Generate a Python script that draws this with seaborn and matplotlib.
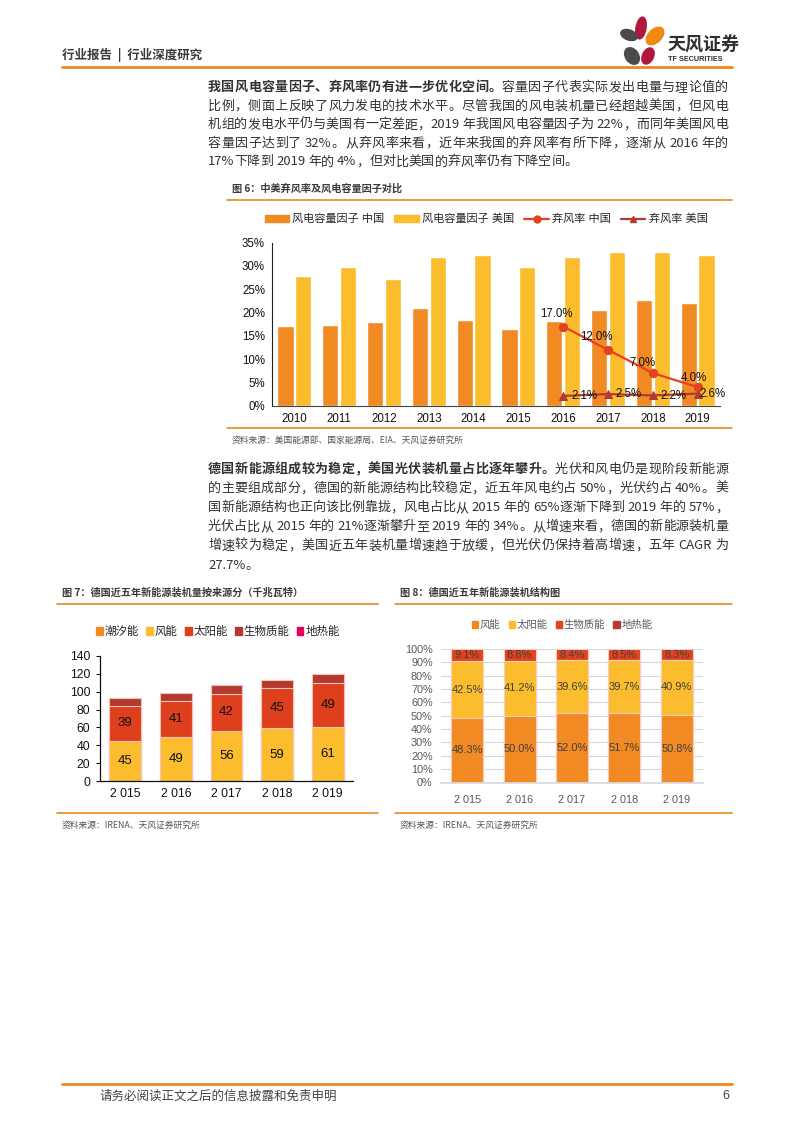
import matplotlib
matplotlib.use("Agg")
import matplotlib.pyplot as plt
import seaborn as sns
import pandas as pd
from matplotlib.patches import Ellipse, Patch
from matplotlib.lines import Line2D
from matplotlib.font_manager import FontProperties

# ----- data -----
years6 = [2010, 2011, 2012, 2013, 2014, 2015, 2016, 2017, 2018, 2019]
cf_china = [17.1, 17.3, 17.9, 20.9, 18.5, 16.4, 18.1, 20.5, 22.7, 22.0]
cf_us = [27.8, 29.7, 27.2, 31.9, 32.4, 29.8, 31.9, 32.9, 33.1, 32.4]
curtail_years = [2016, 2017, 2018, 2019]
curtail_china = [17.0, 12.0, 7.0, 4.0]
curtail_us = [2.1, 2.5, 2.2, 2.6]

years_de = ["2 015", "2 016", "2 017", "2 018", "2 019"]
de_tidal = [0, 0, 0, 0, 0]
de_wind = [45, 49, 56, 59, 61]
de_solar = [39, 41, 42, 45, 49]
de_bio = [8.5, 9, 9, 9.5, 10]
de_geo = [0, 0, 0, 0, 0]

share_wind = [48.3, 50.0, 52.0, 51.7, 50.8]
share_solar = [42.5, 41.2, 39.6, 39.7, 40.9]
share_bio = [9.1, 8.8, 8.4, 8.5, 8.3]
share_geo = [0, 0, 0, 0, 0]

para1 = [
    [("我国风电容量因子、弃风率仍有进一步优化空间。", "bold"), ("容量因子代表实际发出电量与理论值的", "normal")],
    [("比例，侧面上反映了风力发电的技术水平。尽管我国的风电装机量已经超越美国，但风电", "normal")],
    [("机组的发电水平仍与美国有一定差距，2019 年我国风电容量因子为 22%，而同年美国风电", "normal")],
    [("容量因子达到了 32%。从弃风率来看，近年来我国的弃风率有所下降，逐渐从 2016 年的", "normal")],
    [("17%下降到 2019 年的 4%，但对比美国的弃风率仍有下降空间。", "normal")],
]
para2 = [
    [("德国新能源组成较为稳定，美国光伏装机量占比逐年攀升。", "bold"), ("光伏和风电仍是现阶段新能源", "normal")],
    [("的主要组成部分，德国的新能源结构比较稳定，近五年风电约占 50%，光伏约占 40%。美", "normal")],
    [("国新能源结构也正向该比例靠拢，风电占比从 2015 年的 65%逐渐下降到 2019 年的 57%，", "normal")],
    [("光伏占比从 2015 年的 21%逐渐攀升至 2019 年的 34%。从增速来看，德国的新能源装机量", "normal")],
    [("增速较为稳定，美国近五年装机量增速趋于放缓，但光伏仍保持着高增速，五年 CAGR 为", "normal")],
    [("27.7%。", "normal")],
]

ORANGE = "#F28A24"
YELLOW = "#FBBD2E"
RED = "#E2431E"
DARKRED = "#B23A2E"
CRIMSON = "#E6005A"
RULE = "#EA8A1F"
TXT = "#333333"
CJK = ["Noto Sans CJK SC", "DejaVu Sans"]

sns.set_theme(style="white")
plt.rcParams["font.family"] = ["Liberation Sans", "Noto Sans CJK SC", "DejaVu Sans"]

fig = plt.figure(figsize=(7.93, 11.22), dpi=100)
bg = fig.add_axes([0, 0, 1, 1], zorder=0)
bg.set_xlim(0, 793)
bg.set_ylim(1122, 0)
bg.axis("off")
renderer = fig.canvas.get_renderer()


def fax(l, t, r, b):
    a = fig.add_axes([l / 793, 1 - b / 1122, (r - l) / 793, (b - t) / 1122], zorder=2)
    a.set_facecolor("none")
    return a


_cache = {}


def adv(s, weight, size):
    key = (s, weight, size)
    if key not in _cache:
        fp = FontProperties(family=CJK, size=size, weight=weight)
        w1 = renderer.get_text_width_height_descent("|" + s + "|", fp, ismath=False)[0]
        w0 = renderer.get_text_width_height_descent("||", fp, ismath=False)[0]
        _cache[key] = w1 - w0
    return _cache[key]


def tokens(parts):
    out = []
    for s, w in parts:
        buf = ""
        for c in s:
            if ord(c) < 128 and c != " ":
                buf += c
                continue
            if buf:
                out.append((buf, w))
                buf = ""
            out.append((c, w))
        if buf:
            out.append((buf, w))
    return out


def draw_line(x0, x1, y, parts, size=9.4, justify=True):
    toks = tokens(parts)
    widths = [adv(t, w, size) for t, w in toks]
    gap = 0
    if justify and len(toks) > 1:
        gap = (x1 - x0 - sum(widths)) / (len(toks) - 1)
    x = x0
    for (t, w), wd in zip(toks, widths):
        if t != " ":
            bg.text(x, y, t, fontsize=size, fontweight=w, family=CJK, color=TXT,
                    ha="left", va="baseline")
        x += wd + gap


def draw_para(lines, y0, step):
    for i, ln in enumerate(lines):
        draw_line(208, 728, y0 + i * step, ln, justify=(i < len(lines) - 1))


# ----- page frame -----
bg.text(62, 55, "行业报告  |  行业深度研究", family=CJK, fontsize=9, fontweight="bold",
        color="#3a3a3a", va="center")
bg.plot([62, 732], [67, 67], color=RULE, lw=2)
bg.plot([62, 732], [1084, 1084], color=RULE, lw=2)
bg.text(100, 1096, "请务必阅读正文之后的信息披露和免责申明", family=CJK, fontsize=9,
        color="#444444", va="center")
bg.text(722, 1096, "6", fontsize=9, color="#444444", va="center")

# logo petals
for (cx, cy, w, h, ang, col) in [
        (641, 28, 10, 22, 10, "#B0173F"), (655, 36, 13, 21, 45, "#EF8A12"),
        (629, 35, 17, 10, 20, "#4a4a4a"), (632, 56, 13, 18, -35, "#4a4a4a"),
        (648, 56, 11, 17, 25, "#B0173F")]:
    bg.add_patch(Ellipse((cx, cy), w, h, angle=ang, color=col, zorder=3))
bg.text(667, 45, "天风证券", family=CJK, fontsize=13, fontweight="bold", color="#2f2f2f",
        va="center")
bg.text(668, 59, "TF SECURITIES", fontsize=5.2, fontweight="bold", color="#2f2f2f",
        va="center")

draw_para(para1, 91, 18.6)
draw_para(para2, 473, 19.1)

# chart captions and rules
bg.text(232, 189, "图 6：中美弃风率及风电容量因子对比", family=CJK, fontsize=7.3,
        fontweight="bold", color="#3a3a3a", va="center")
bg.plot([227, 732], [200, 200], color=RULE, lw=1.2)
bg.plot([227, 732], [428, 428], color=RULE, lw=1.2)
bg.text(232, 440, "资料来源：美国能源部、国家能源局、EIA、天风证券研究所", family=CJK,
        fontsize=6.3, color="#555555", va="center")

bg.text(62, 593, "图 7：德国近五年新能源装机量按来源分（千兆瓦特）", family=CJK, fontsize=7.3,
        fontweight="bold", color="#3a3a3a", va="center")
bg.plot([57, 378], [604, 604], color=RULE, lw=1.2)
bg.plot([57, 378], [813, 813], color=RULE, lw=1.2)
bg.text(62, 825, "资料来源：IRENA、天风证券研究所", family=CJK, fontsize=6.3,
        color="#555555", va="center")

bg.text(400, 593, "图 8：德国近五年新能源装机结构图", family=CJK, fontsize=7.3,
        fontweight="bold", color="#3a3a3a", va="center")
bg.plot([395, 732], [604, 604], color=RULE, lw=1.2)
bg.plot([395, 732], [813, 813], color=RULE, lw=1.2)
bg.text(400, 825, "资料来源：IRENA、天风证券研究所", family=CJK, fontsize=6.3,
        color="#555555", va="center")

# ----- chart 6 -----
ax6 = fax(272, 242.7, 720, 405.7)
df6 = pd.DataFrame({
    "year": years6 * 2,
    "value": cf_china + cf_us,
    "series": ["风电容量因子 中国"] * len(years6) + ["风电容量因子 美国"] * len(years6),
})
sns.barplot(data=df6, x="year", y="value", hue="series", palette=[ORANGE, YELLOW],
            width=0.8, gap=0.1, legend=False, ax=ax6, saturation=1)
pos = [years6.index(y) for y in curtail_years]
sns.lineplot(x=pos, y=curtail_china, color=RED, marker="o", markersize=6, lw=1.6,
             markeredgecolor=RED, ax=ax6)
sns.lineplot(x=pos, y=curtail_us, color=DARKRED, marker="^", markersize=6, lw=1.6,
             markeredgecolor=DARKRED, ax=ax6)
for p, v, dx, dy in zip(pos, curtail_china, [-7, -12, -10, -4], [13, 13, 10, 9]):
    ax6.annotate(f"{v:.1f}%", (p, v), xytext=(dx, dy), textcoords="offset pixels",
                 ha="center", va="center", fontsize=8.3, color="#111111")
for p, v, dx, dy in zip(pos, curtail_us, [21, 21, 21, 15], [0, 0, -1, 0]):
    ax6.annotate(f"{v:.1f}%", (p, v), xytext=(dx, dy), textcoords="offset pixels",
                 ha="center", va="center", fontsize=8.3, color="#111111")
ax6.set_xlim(-0.5, 9.5)
ax6.set_ylim(0, 35)
ax6.set_yticks(range(0, 36, 5))
ax6.set_yticklabels([f"{t}%" for t in range(0, 36, 5)])
ax6.set_xlabel("")
ax6.set_ylabel("")
ax6.tick_params(axis="both", labelsize=8.3, colors="#111111", length=0, pad=5)
for s in ["top", "right"]:
    ax6.spines[s].set_visible(False)
ax6.spines["left"].set_color("#222222")
ax6.spines["bottom"].set_color("#444444")
ax6.spines["left"].set_linewidth(0.8)
ax6.spines["bottom"].set_linewidth(0.8)
h6 = [Patch(color=ORANGE), Patch(color=YELLOW),
      Line2D([], [], color=RED, marker="o", markersize=5, lw=1.6),
      Line2D([], [], color=DARKRED, marker="^", markersize=5, lw=1.6)]
fig.legend(h6, ["风电容量因子 中国", "风电容量因子 美国", "弃风率 中国", "弃风率 美国"],
           loc="center", bbox_to_anchor=(486 / 793, 1 - 219 / 1122), ncol=4, frameon=False,
           fontsize=8, handlelength=2.2, handleheight=0.55, handletextpad=0.3,
           columnspacing=0.9)

# ----- chart 7 -----
ax7 = fax(100, 656, 353, 781)
layers7 = [
    ([w + s + b + g + t for w, s, b, g, t in zip(de_wind, de_solar, de_bio, de_geo, de_tidal)], CRIMSON),
    ([w + s + b + t for w, s, b, t in zip(de_wind, de_solar, de_bio, de_tidal)], DARKRED),
    ([w + s + t for w, s, t in zip(de_wind, de_solar, de_tidal)], "#DE3F1C"),
    ([w + t for w, t in zip(de_wind, de_tidal)], YELLOW),
    (de_tidal, ORANGE),
]
for vals, col in layers7:
    sns.barplot(x=years_de, y=vals, color=col, width=0.63, saturation=1,
                edgecolor="#f2c3bb", linewidth=0.8, ax=ax7)
for i in range(len(years_de)):
    ax7.text(i, de_tidal[i] + de_wind[i] / 2, f"{de_wind[i]}", ha="center", va="center",
             fontsize=9.5, color="#111111")
    ax7.text(i, de_tidal[i] + de_wind[i] + de_solar[i] / 2, f"{de_solar[i]}", ha="center",
             va="center", fontsize=9.5, color="#111111")
ax7.set_xlim(-0.5, 4.5)
ax7.set_ylim(0, 140)
ax7.set_yticks(range(0, 141, 20))
ax7.tick_params(axis="y", labelsize=8.8, colors="#111111", length=3, width=0.8, direction="out",
                left=True, pad=4)
ax7.tick_params(axis="x", labelsize=8.8, colors="#111111", length=0, pad=5)
for s in ["top", "right"]:
    ax7.spines[s].set_visible(False)
for s in ["left", "bottom"]:
    ax7.spines[s].set_color("#111111")
    ax7.spines[s].set_linewidth(0.9)
h7 = [Patch(color=c) for c in [ORANGE, YELLOW, "#DE3F1C", DARKRED, CRIMSON]]
fig.legend(h7, ["潮汐能", "风能", "太阳能", "生物质能", "地热能"], loc="center",
           bbox_to_anchor=(218 / 793, 1 - 632 / 1122), ncol=5, frameon=False, fontsize=8.3,
           handlelength=0.6, handleheight=0.6, handletextpad=0.15, columnspacing=0.6)

# ----- chart 8 -----
ax8 = fax(441, 649, 703, 782.5)
ax8.yaxis.grid(True, color="#d9d9d9", lw=0.8)
ax8.set_axisbelow(True)
layers8 = [
    ([w + s + b + g for w, s, b, g in zip(share_wind, share_solar, share_bio, share_geo)], DARKRED),
    ([w + s + b for w, s, b in zip(share_wind, share_solar, share_bio)], RED),
    ([w + s for w, s in zip(share_wind, share_solar)], YELLOW),
    (share_wind, ORANGE),
]
for vals, col in layers8:
    sns.barplot(x=years_de, y=vals, color=col, width=0.61, saturation=1,
                edgecolor="#f5cfc6", linewidth=0.8, ax=ax8)
for i in range(len(years_de)):
    base = 0
    for v in [share_wind[i], share_solar[i], share_bio[i]]:
        ax8.text(i, base + v / 2, f"{v:.1f}%", ha="center", va="center", fontsize=8,
                 color="#404040")
        base += v
ax8.set_xlim(-0.5, 4.5)
ax8.set_ylim(0, 100)
ax8.set_yticks(range(0, 101, 10))
ax8.set_yticklabels([f"{t}%" for t in range(0, 101, 10)])
ax8.tick_params(axis="both", labelsize=7.8, colors="#595959", length=0)
ax8.tick_params(axis="y", pad=6)
ax8.tick_params(axis="x", pad=9)
for s in ["top", "right", "left"]:
    ax8.spines[s].set_visible(False)
ax8.spines["bottom"].set_color("#d9d9d9")
h8 = [Patch(color=c) for c in [ORANGE, YELLOW, RED, DARKRED]]
lg8 = fig.legend(h8, ["风能", "太阳能", "生物质能", "地热能"], loc="center",
                 bbox_to_anchor=(562 / 793, 1 - 625 / 1122), ncol=4, frameon=False,
                 fontsize=7.5, handlelength=0.6, handleheight=0.6, handletextpad=0.15,
                 columnspacing=0.8)
for t in lg8.get_texts():
    t.set_color("#595959")

fig.savefig("out.png", dpi=100)
